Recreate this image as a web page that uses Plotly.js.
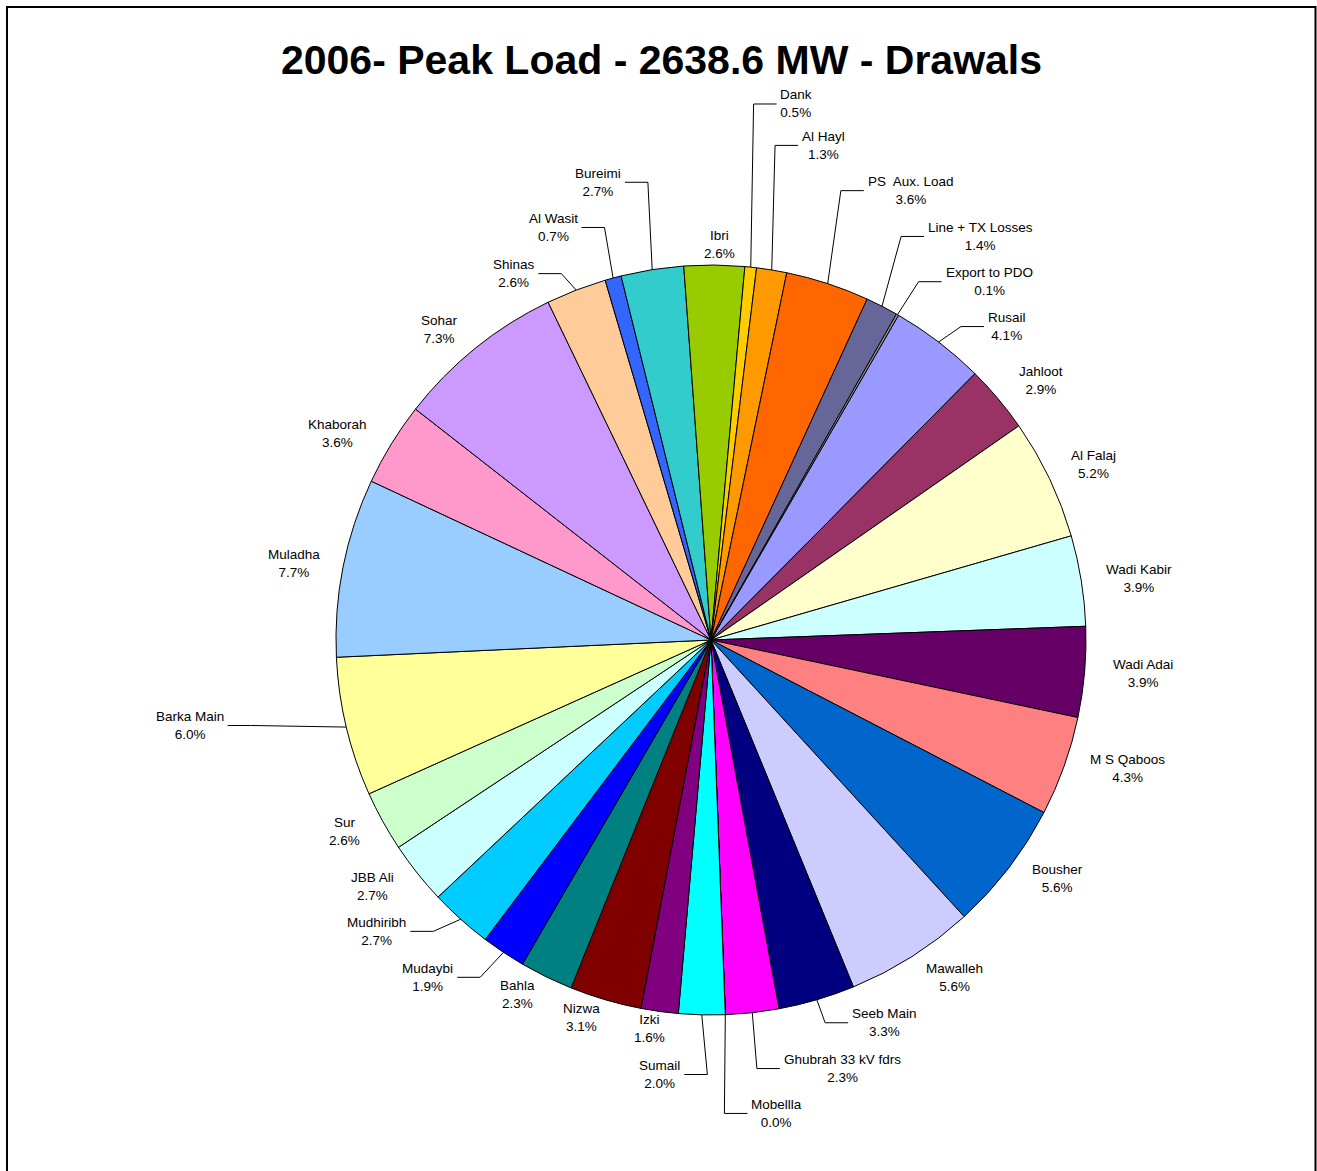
<!DOCTYPE html>
<html>
<head>
<meta charset="utf-8">
<script src="https://cdn.plot.ly/plotly-3.0.1.min.js"></script>
<style>
html,body{margin:0;padding:0;background:#fff;}
#chart{width:1317px;height:1171px;}
</style>
</head>
<body>
<div id="chart"></div>
<script>
// ---- data (first point starts at the 30° position, clockwise) ----
const stations = ["Rusail","Jahloot","Al Falaj","Wadi Kabir","Wadi Adai","M S Qaboos","Bousher","Mawalleh","Seeb Main","Ghubrah 33 kV fdrs","Mobellla","Sumail","Izki","Nizwa","Bahla","Mudaybi","Mudhiribh","JBB Ali","Sur","Barka Main","Muladha","Khaborah","Sohar","Shinas","Al Wasit","Bureimi","Ibri","Dank","Al Hayl","PS  Aux. Load","Line + TX Losses","Export to PDO"];
const shares = [4.1,2.9,5.2,3.9,3.9,4.3,5.6,5.6,3.3,2.3,0.0,2.0,1.6,3.1,2.3,1.9,2.7,2.7,2.6,6.0,7.7,3.6,7.3,2.6,0.7,2.7,2.6,0.5,1.3,3.6,1.4,0.1];
const sliceColors = ["#9999FF","#993366","#FFFFCC","#CCFFFF","#660066","#FF8080","#0066CC","#CCCCFF","#000080","#FF00FF","#FFFF00","#00FFFF","#800080","#800000","#008080","#0000FF","#00CCFF","#CCFFFF","#CCFFCC","#FFFF99","#99CCFF","#FF99CC","#CC99FF","#FFCC99","#3366FF","#33CCCC","#99CC00","#FFCC00","#FF9900","#FF6600","#666699","#969696"];
const chartTitle = "2006- Peak Load - 2638.6 MW - Drawals";

// ---- label layout (angular shift from slice middle in degrees, distance factor, leader flag) ----
const labelShift = [4.1,0.0,-0.6,0.4,-0.2,-1.4,-1.2,-1.7,-6.6,-9.7,-5.2,4.9,0.5,1.5,1.0,4.6,5.2,0.5,-0.3,3.5,-0.1,-1.0,-0.4,-5.7,-4.6,-4.0,0.7,2.4,2.7,4.5,4.9,6.2];
const labelDist = [1.154,1.113,1.101,1.118,1.119,1.134,1.112,1.124,1.147,1.230,1.317,1.206,1.083,1.094,1.098,1.184,1.180,1.108,1.084,1.368,1.099,1.120,1.107,1.132,1.209,1.296,1.091,1.495,1.395,1.343,1.313,1.222];
const hasLeader = [1,0,0,0,0,0,0,0,1,1,1,1,0,0,0,1,1,0,0,1,0,0,0,1,1,1,0,1,1,1,1,1];

const W = 1317, H = 1171;
const CX = 711, CY = 640, R = 375;
const M = {l: CX - R, r: W - (CX + R), t: CY - R, b: H - (CY + R), pad: 0};
const FIRST_ANGLE = 30;
const LABEL_RX = 387, LABEL_RY = 362.5;
const FONT = '"Liberation Sans", Arial, sans-serif';
const LABEL_SIZE = 13.5;
const deg = Math.PI / 180;

const total = shares.reduce((a, b) => a + b, 0);
function toPaper(px, py) { return [(px - M.l) / (2 * R), 1 - (py - M.t) / (2 * R)]; }

const ctx = document.createElement('canvas').getContext('2d');
ctx.font = LABEL_SIZE + 'px "Liberation Sans", Arial, sans-serif';

const annotations = [];
const shapes = [];
let cum = 0;
stations.forEach((name, i) => {
  const mid = FIRST_ANGLE + (cum + shares[i] / 2) / total * 360;
  cum += shares[i];
  const pct = (shares[i] / total * 100).toFixed(1) + '%';
  const a = (mid + labelShift[i]) * deg;
  const lx = CX + labelDist[i] * LABEL_RX * Math.sin(a);
  const ly = CY - labelDist[i] * LABEL_RY * Math.cos(a);
  const ap = toPaper(lx, ly);
  annotations.push({
    x: ap[0], y: ap[1], xref: 'paper', yref: 'paper',
    text: name + '<br>' + pct, showarrow: false,
    xanchor: 'center', yanchor: 'middle', align: 'center',
    font: {family: FONT, size: LABEL_SIZE, color: '#000'}
  });
  if (hasLeader[i]) {
    const ex = CX + R * Math.sin(mid * deg), ey = CY - R * Math.cos(mid * deg);
    const half = Math.max(ctx.measureText(name).width, ctx.measureText(pct).width) / 2;
    const dir = ex < lx ? -1 : 1;
    const sx = lx + dir * (half + 4);
    const kx = sx + dir * 23;
    const pts = [[ex, ey], [kx, ly], [sx, ly]].map(q => toPaper(q[0], q[1]));
    shapes.push({
      type: 'path', xref: 'paper', yref: 'paper',
      path: 'M' + pts.map(q => q[0] + ',' + q[1]).join(' L'),
      line: {color: '#000', width: 1}
    });
  }
});

// outer frame
const f0 = toPaper(7, 7), f1 = toPaper(1315.5, 1200);
shapes.push({type: 'rect', xref: 'paper', yref: 'paper', x0: f0[0], y0: f0[1], x1: f1[0], y1: f1[1],
  line: {color: '#000', width: 2}, fillcolor: 'rgba(0,0,0,0)'});

const trace = {
  type: 'pie',
  values: shares,
  labels: stations,
  sort: false,
  direction: 'clockwise',
  rotation: FIRST_ANGLE,
  marker: {colors: sliceColors, line: {color: '#000', width: 1}},
  textinfo: 'none',
  hoverinfo: 'label+percent',
  domain: {x: [0, 1], y: [0, 1]},
  showlegend: false
};

const layout = {
  width: W, height: H, autosize: false,
  margin: M,
  paper_bgcolor: '#fff', plot_bgcolor: '#fff',
  showlegend: false,
  title: {
    text: '<b>' + chartTitle + '</b>',
    font: {family: FONT, size: 41, color: '#000'},
    xref: 'container', x: 661.5 / W, xanchor: 'center',
    yref: 'container', y: 1 - 60 / H, yanchor: 'middle'
  },
  annotations: annotations,
  shapes: shapes
};

Plotly.newPlot('chart', [trace], layout, {displayModeBar: false, staticPlot: true});
</script>
</body>
</html>
